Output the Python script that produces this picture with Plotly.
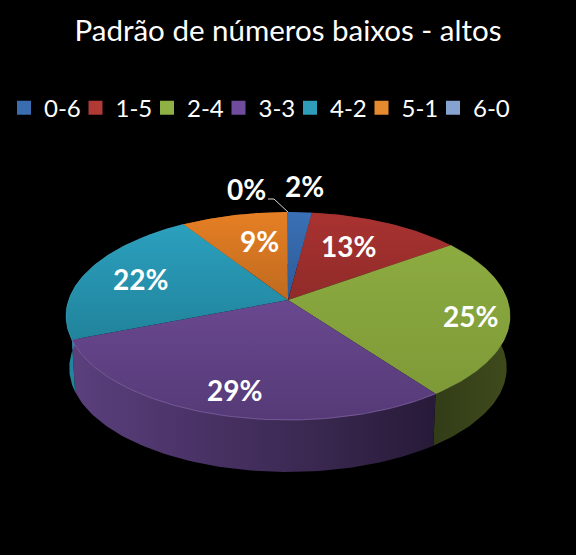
import numpy as np
import plotly.graph_objects as go

TITLE = "Padrão de números baixos - altos"
categories = ["0-6", "1-5", "2-4", "3-3", "4-2", "5-1", "6-0"]
values = [2.0, 13, 25, 29, 22, 9, 0.05]
value_labels = ["2%", "13%", "25%", "29%", "22%", "9%", "0%"]

legend_colors = ["#3a6db0", "#b03a36", "#8fb045", "#6f4d9c", "#2f9db9", "#e58a2e", "#86a2d0"]
# bottom colour, top colour of each slice's face
top_colors = [
    ("#2c5b98", "#3a70b5"), ("#8f2b29", "#a93230"), ("#7e9a38", "#8cab40"),
    ("#553a77", "#6a4890"), ("#21839c", "#2ba0be"), ("#bf6a1f", "#e67f24"), ("#86a2d0", "#86a2d0"),
]
# left to right colours of each slice's outer wall
wall_colors = [
    ["#1d3a60", "#1d3a60"], ["#5a1c1a", "#5a1c1a"], ["#323d18", "#3f4a1c"],
    ["#5b407d", "#4a3367", "#3a2850", "#271a38"], ["#22879f", "#1a6e82"], ["#7a4414", "#7a4414"], ["#506180", "#506180"],
]
rim_colors = ["#5b8bc8", "#c95a56", "#a3bf62", "#8d6cb3", "#55b8d0", "#f09c50", "#a0b8e0"]
rim_opacity = [0, 0, 0.35, 0.7, 0.3, 0, 0]
label_pos = [(304, 186), (348, 246), (470, 316), (234, 390), (140, 279), (259, 241), (246, 189)]

# projection of the disc: a simple perspective onto page pixels
CX, CY, R, H, K = 288, 300, 219.4, 101.5, 0.154
BOTTOM_Y, BOTTOM_SCALE = 352, 0.985


def project(theta, bottom=False):
    u, v = np.sin(theta), np.cos(theta)
    w = 1 + K * v
    if bottom:
        return CX + BOTTOM_SCALE * R * u / w, BOTTOM_Y - H * v / w
    return CX + R * u / w, CY - H * v / w


def scale(stops):
    return [[j / (len(stops) - 1), c] for j, c in enumerate(stops)]


fractions = np.array(values) / sum(values)
edges = np.concatenate([[0], np.cumsum(fractions)]) * 2 * np.pi

fig = go.Figure()
# outer walls first, the top faces cover what lies behind them
for i, cat in enumerate(categories):
    t = np.linspace(edges[i], edges[i + 1], 80)
    xt, yt = project(t)
    xb, yb = project(t[::-1], bottom=True)
    fig.add_trace(go.Scatter(
        x=np.concatenate([xt, xb]), y=np.concatenate([yt, yb]), mode="lines",
        line=dict(width=0), fill="toself", showlegend=False, hoverinfo="skip",
        fillgradient=dict(type="horizontal", colorscale=scale(wall_colors[i])),
    ))
for i, cat in enumerate(categories):
    t = np.linspace(edges[i], edges[i + 1], 80)
    xt, yt = project(t)
    fig.add_trace(go.Scatter(
        x=np.concatenate([[CX], xt, [CX]]), y=np.concatenate([[CY], yt, [CY]]), mode="lines",
        line=dict(width=0), fill="toself", showlegend=False, name=cat, hoverinfo="skip",
        fillgradient=dict(type="vertical", colorscale=scale(top_colors[i])),
    ))
    if rim_opacity[i] > 0:
        fig.add_trace(go.Scatter(x=xt, y=yt, mode="lines", line=dict(width=1, color=rim_colors[i]),
                                 opacity=rim_opacity[i], showlegend=False, hoverinfo="skip"))

# leader line of the 0% label
lx, ly = project(np.array([0.0]))
fig.add_trace(go.Scatter(x=[268, 274, lx[0]], y=[199, 199, ly[0]], mode="lines",
                         line=dict(width=1, color="#d9d9d9"), showlegend=False, hoverinfo="skip"))

# legend entries, with one blank entry that keeps the last label inside the legend box
for cat, col in zip(categories + [" "], legend_colors + ["rgba(0,0,0,0)"]):
    fig.add_trace(go.Scatter(
        x=[None], y=[None], mode="markers", name=cat,
        marker=dict(symbol="square", size=14, color=col, line=dict(width=0)),
    ))

for txt, (x, y) in zip(value_labels, label_pos):
    fig.add_annotation(x=x, y=y, xref="x", yref="y", text=f"<b>{txt}</b>", showarrow=False,
                       font=dict(family="Lato", size=28, color="#ffffff"))

fig.update_layout(
    width=576, height=555, paper_bgcolor="#000000", plot_bgcolor="#000000",
    margin=dict(l=0, r=0, t=0, b=0),
    font=dict(family="Lato", color="#ffffff"),
    title=dict(text=TITLE, x=0.5, xanchor="center", y=0.944, yanchor="middle",
               font=dict(family="Lato", size=29.5, color="#ffffff")),
    xaxis=dict(range=[0, 576], visible=False, fixedrange=True),
    yaxis=dict(range=[555, 0], visible=False, fixedrange=True),
    legend=dict(orientation="h", x=0.0104, xanchor="left", y=0.805, yanchor="middle",
                font=dict(family="Lato", size=24, color="#ffffff"), bgcolor="rgba(0,0,0,0)",
                entrywidth=26.5, entrywidthmode="pixels", itemwidth=30, traceorder="normal",
                itemclick=False, itemdoubleclick=False),
    showlegend=True,
)
fig.write_html("out.html", config={"displayModeBar": False},
               post_script="document.body.style.margin='0';document.body.style.background='#000';document.documentElement.style.overflow='hidden';")
